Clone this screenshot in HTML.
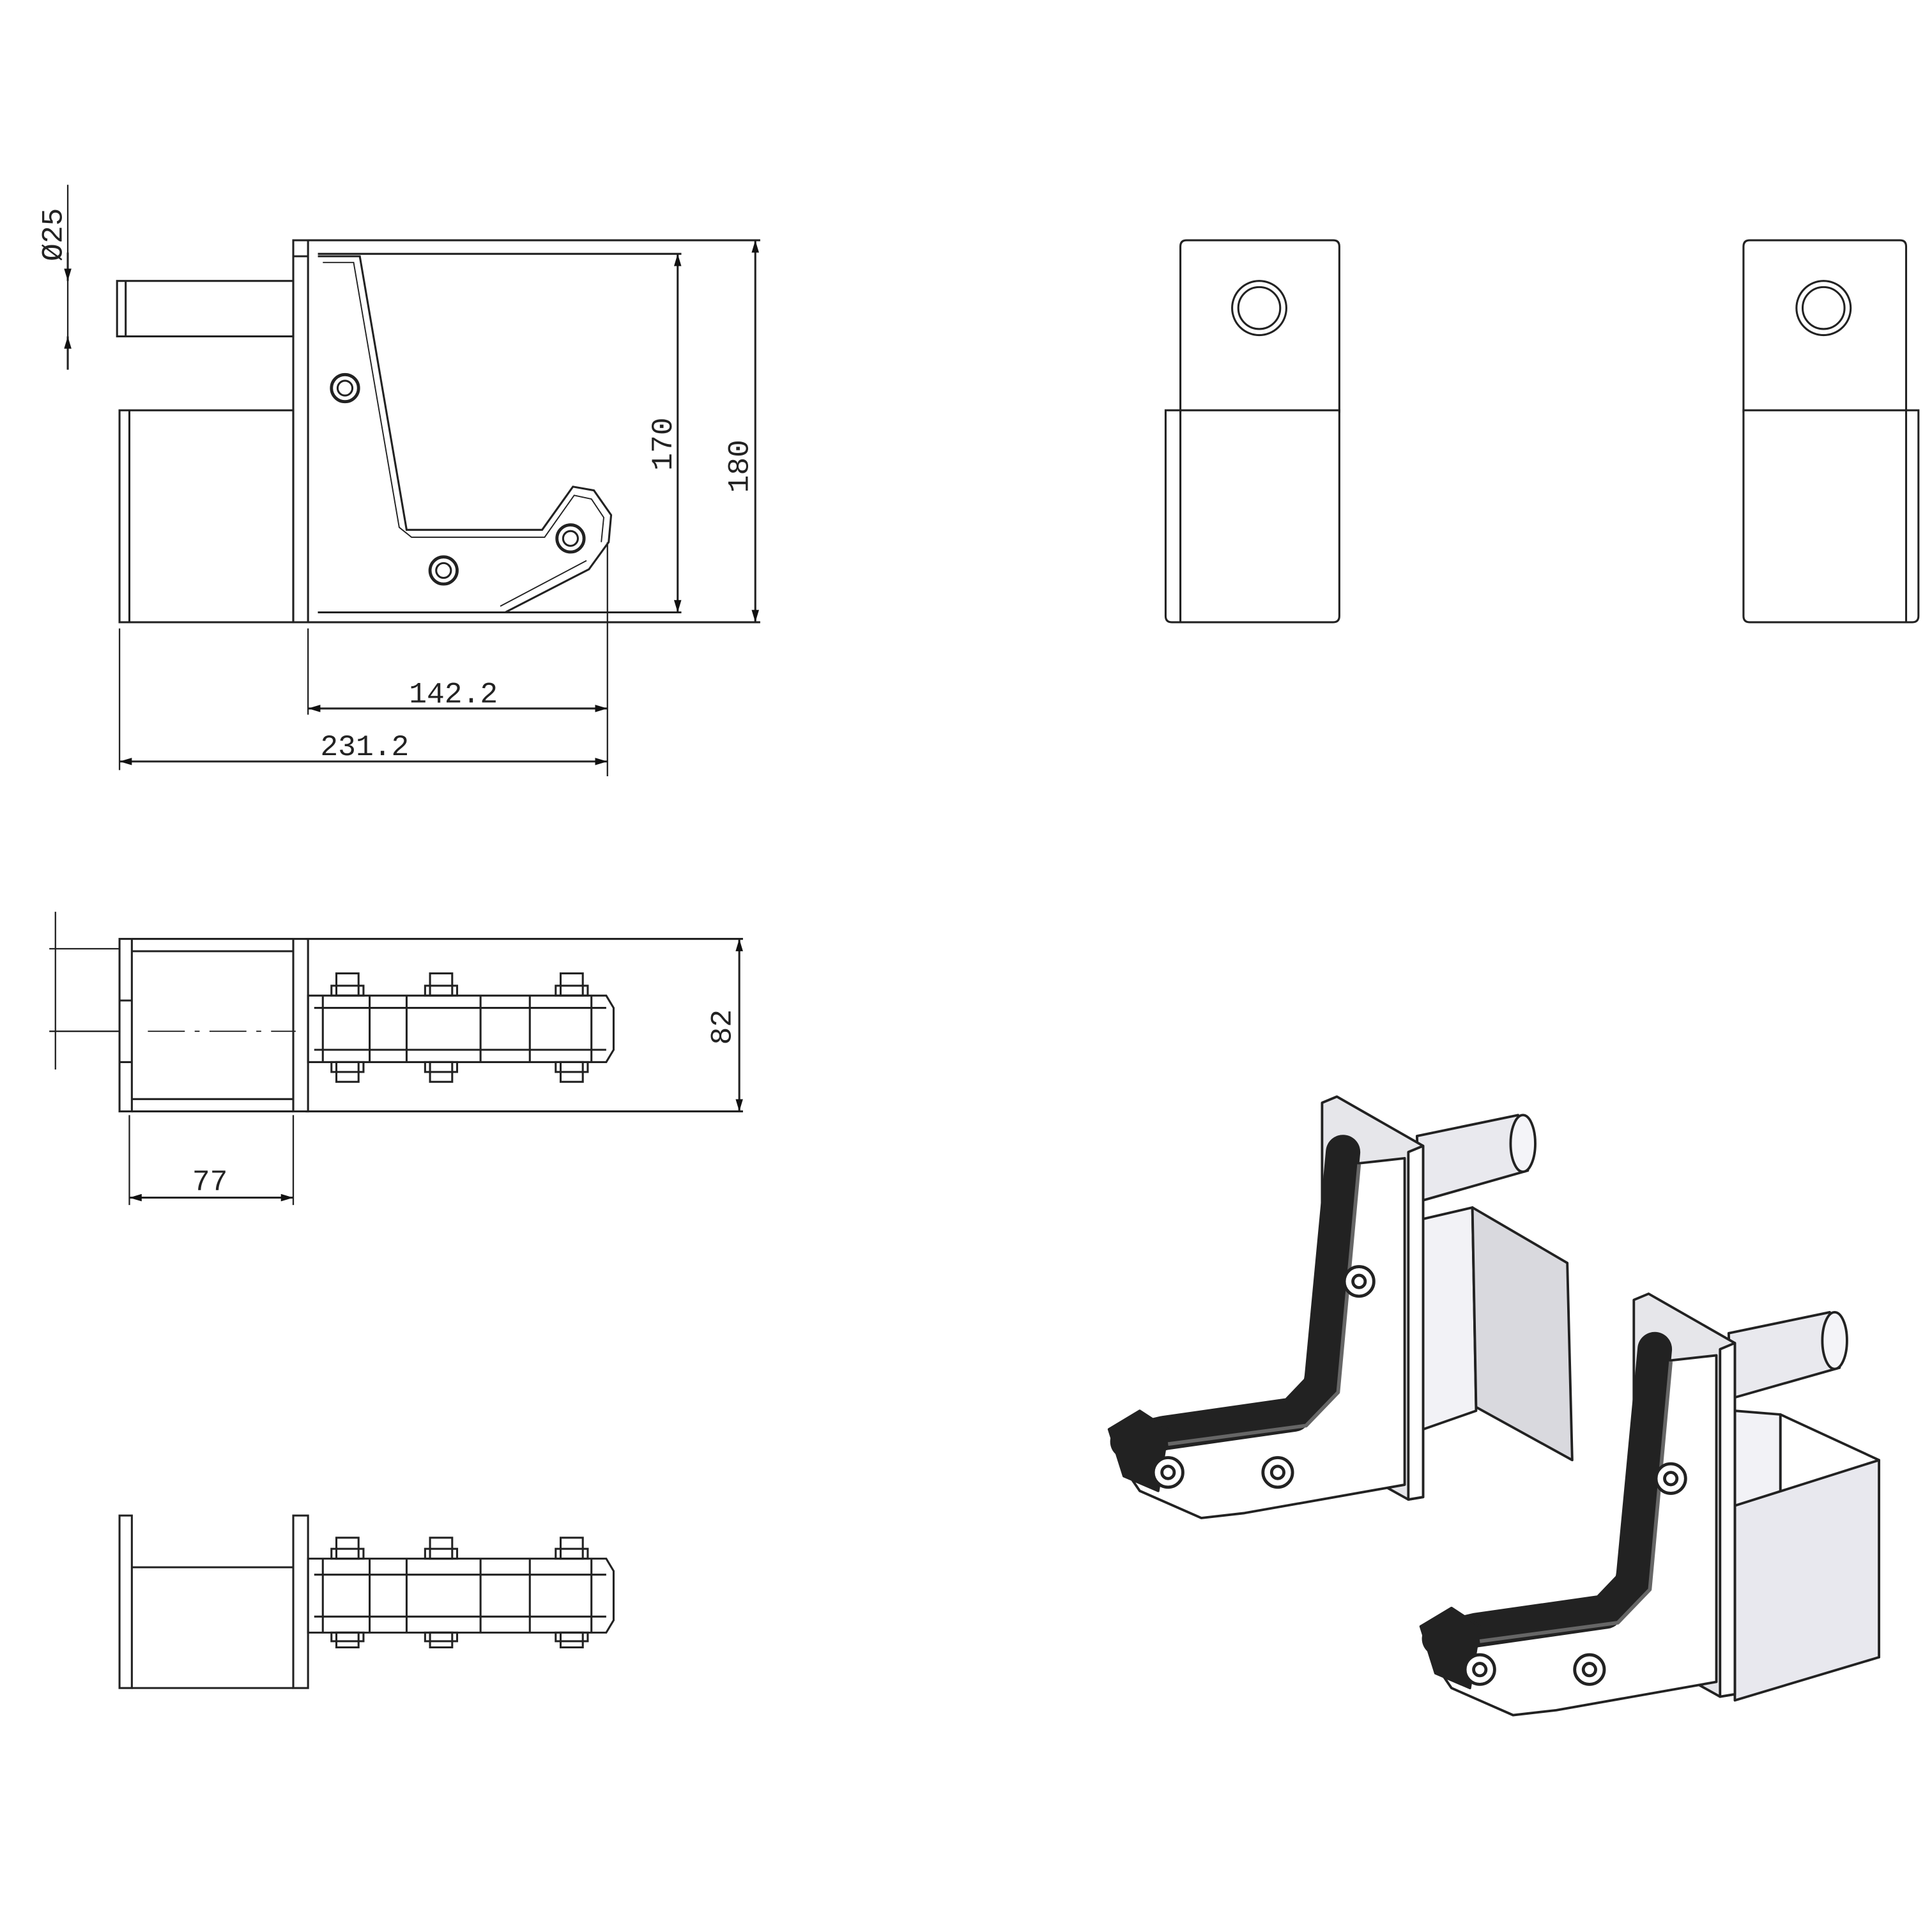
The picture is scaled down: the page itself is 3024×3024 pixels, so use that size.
<!DOCTYPE html>
<html><head><meta charset="utf-8"><style>
html,body{margin:0;padding:0;background:#fff;}
svg{display:block;}
text{font-family:"Liberation Mono","DejaVu Sans Mono",monospace;fill:#222;}
</style></head><body>
<svg width="3024" height="3024" viewBox="0 0 1568 1568" xmlns="http://www.w3.org/2000/svg">
<defs>
<marker id="a" viewBox="0 0 10 6" refX="10" refY="3" markerWidth="10" markerHeight="6" orient="auto-start-reverse" markerUnits="userSpaceOnUse"><path d="M0,0L10,3L0,6z" fill="#111"/></marker>
</defs>
<rect width="1568" height="1568" fill="#fff"/>
<g fill="none" stroke="#222" stroke-width="1.6">
<rect x="95" y="228" width="143" height="45"/>
<line x1="102" y1="228" x2="102" y2="273"/>
<rect x="238" y="195" width="12" height="310"/>
<line x1="238" y1="208" x2="250" y2="208"/>
<rect x="97" y="333" width="141" height="172"/>
<line x1="105" y1="333" x2="105" y2="505"/>
<line x1="250" y1="195" x2="617" y2="195"/>
<line x1="258" y1="206" x2="553" y2="206"/>
<line x1="250" y1="505" x2="617" y2="505"/>
<line x1="258" y1="497" x2="553" y2="497"/>
<path d="M258,208 L292,208 L330,430 L440,430 L465,395 L482,398 L496,418 L494,440 L478,462 L410,497 L258,497"/>
<path d="M262,213 L287,213 L324,428 L334,436 L442,436 L466,402 L480,405 L490,420 L488,440" stroke-width="1"/>
<path d="M406,492 L476,455" stroke-width="1"/>
<circle cx="280" cy="315" r="11" stroke-width="2.5"/><circle cx="280" cy="315" r="6"/>
<circle cx="463" cy="437" r="11" stroke-width="2.5"/><circle cx="463" cy="437" r="6"/>
<circle cx="360" cy="463" r="11" stroke-width="2.5"/><circle cx="360" cy="463" r="6"/>
<line x1="55" y1="150" x2="55" y2="300" stroke-width="1.2"/>
<line x1="55" y1="205" x2="55" y2="228" marker-end="url(#a)"/>
<line x1="55" y1="300" x2="55" y2="273" marker-end="url(#a)"/>
<line x1="550" y1="206" x2="550" y2="497" marker-start="url(#a)" marker-end="url(#a)"/>
<line x1="613" y1="195" x2="613" y2="505" marker-start="url(#a)" marker-end="url(#a)"/>
<line x1="250" y1="510" x2="250" y2="580" stroke-width="1.2"/>
<line x1="493" y1="440" x2="493" y2="630" stroke-width="1.2"/>
<line x1="97" y1="510" x2="97" y2="625" stroke-width="1.2"/>
<line x1="250" y1="575" x2="493" y2="575" marker-start="url(#a)" marker-end="url(#a)"/>
<line x1="97" y1="618" x2="493" y2="618" marker-start="url(#a)" marker-end="url(#a)"/>
<path d="M958,335 L958,200 Q958,195 963,195 L1082,195 Q1087,195 1087,200 L1087,335"/>
<path d="M946,333 L1087,333 L1087,500 Q1087,505 1082,505 L951,505 Q946,505 946,500 Z"/>
<line x1="958" y1="333" x2="958" y2="505"/>
<circle cx="1022" cy="250" r="22"/><circle cx="1022" cy="250" r="17"/>
<path d="M1415,335 L1415,200 Q1415,195 1420,195 L1542,195 Q1547,195 1547,200 L1547,333"/>
<path d="M1415,333 L1557,333 L1557,500 Q1557,505 1552,505 L1420,505 Q1415,505 1415,500 Z"/>
<line x1="1547" y1="333" x2="1547" y2="505"/>
<circle cx="1480" cy="250" r="22"/><circle cx="1480" cy="250" r="17"/>
<rect x="97" y="762" width="10" height="140"/>
<rect x="238" y="762" width="12" height="140"/>
<path d="M107,762 L238,762 M107,772 L238,772 M107,892 L238,892 M107,902 L238,902"/>
<line x1="97" y1="812" x2="107" y2="812"/><line x1="97" y1="862" x2="107" y2="862"/>
<line x1="120" y1="837" x2="240" y2="837" stroke-dasharray="30,8,4,8" stroke-width="1"/>
<line x1="248" y1="762" x2="603" y2="762"/>
<line x1="248" y1="902" x2="603" y2="902"/>
<path d="M250,808 L492,808 L498,818 L498,852 L492,862 L250,862 Z"/>
<path d="M255,818 L492,818 M255,852 L492,852"/>
<path d="M262,808 L262,862 M300,808 L300,862 M330,808 L330,862 M390,808 L390,862 M430,808 L430,862 M480,808 L480,862"/>
<g id="b1">
<rect x="273" y="790" width="18" height="18"/><rect x="269" y="800" width="26" height="8"/>
<rect x="273" y="862" width="18" height="16"/><rect x="269" y="862" width="26" height="8"/>
</g>
<use href="#b1" x="76"/><use href="#b1" x="182"/>
<line x1="600" y1="762" x2="600" y2="902" marker-start="url(#a)" marker-end="url(#a)"/>
<line x1="105" y1="905" x2="105" y2="978" stroke-width="1.2"/>
<line x1="238" y1="905" x2="238" y2="978" stroke-width="1.2"/>
<line x1="105" y1="972" x2="238" y2="972" marker-start="url(#a)" marker-end="url(#a)"/>
<line x1="45" y1="740" x2="45" y2="868" stroke-width="1.2"/>
<line x1="40" y1="770" x2="97" y2="770" stroke-width="1.2"/>
<line x1="40" y1="837" x2="97" y2="837" stroke-width="1.2"/>
<rect x="97" y="1230" width="10" height="140"/>
<rect x="238" y="1230" width="12" height="140"/>
<path d="M107,1272 L238,1272 M107,1370 L238,1370"/>
<path d="M250,1265 L492,1265 L498,1275 L498,1315 L492,1325 L250,1325 Z"/>
<path d="M255,1278 L492,1278 M255,1312 L492,1312"/>
<path d="M262,1265 L262,1325 M300,1265 L300,1325 M330,1265 L330,1325 M390,1265 L390,1325 M430,1265 L430,1325 M480,1265 L480,1325"/>
<g id="b2">
<rect x="273" y="1248" width="18" height="17"/><rect x="269" y="1257" width="26" height="8"/>
<rect x="273" y="1325" width="18" height="12"/><rect x="269" y="1325" width="26" height="7"/>
</g>
<use href="#b2" x="76"/><use href="#b2" x="182"/>
</g>
<g font-size="24">
<text x="0" y="0" transform="translate(50,212) rotate(-90)">Ø25</text>
<text x="0" y="0" transform="translate(545,382) rotate(-90)">170</text>
<text x="0" y="0" transform="translate(607,400) rotate(-90)">180</text>
<text x="332" y="570">142.2</text>
<text x="260" y="613">231.2</text>
<text x="0" y="0" transform="translate(593,848) rotate(-90)">82</text>
<text x="156" y="966">77</text>
</g>
<g id="br" stroke="#222" stroke-width="2" stroke-linejoin="round">
<path d="M1152,990 L1195,980 L1198,1145 L1155,1160 Z" fill="#f2f2f6"/>
<path d="M1195,980 L1272,1025 L1276,1185 L1198,1142 Z" fill="#d9d9de"/>
<path d="M1150,922 L1232,905 L1240,950 L1152,975 Z" fill="#e9e9ee"/>
<ellipse cx="1236" cy="928" rx="10" ry="23" fill="#f4f4f8"/>
<path d="M1073,895 L1085,890 L1155,930 L1155,1215 L1143,1217 L1073,1178 Z" fill="#e6e6ea"/>
<path d="M1143,935 L1155,930 L1155,1215 L1143,1217 Z" fill="#fff"/>
<path d="M1095,945 L1140,940 L1140,1205 L1010,1228 L975,1232 L925,1210 L908,1185 L945,1168 L1055,1140 Z" fill="#fff"/>
<path d="M1090,935 L1072,1125 L1050,1148 L945,1163 L915,1170" fill="none" stroke="#222" stroke-width="28" stroke-linecap="round"/>
<path d="M1103,945 L1086,1130 L1060,1157 L948,1172" fill="none" stroke="#666" stroke-width="3"/>
<path d="M900,1160 L925,1145 L948,1160 L940,1210 L912,1198 Z" fill="#222"/>
<g fill="#fff" stroke-width="2.5">
<circle cx="1103" cy="1040" r="12"/><circle cx="1103" cy="1040" r="5"/>
<circle cx="948" cy="1195" r="12"/><circle cx="948" cy="1195" r="5"/>
<circle cx="1037" cy="1195" r="12"/><circle cx="1037" cy="1195" r="5"/>
</g>
</g>
<g transform="translate(253,160)" stroke="#222" stroke-width="2" stroke-linejoin="round">
<path d="M1155,985 L1192,988 L1192,1140 L1155,1160 Z" fill="#f2f2f6"/>
<path d="M1192,988 L1272,1025 L1272,1185 L1192,1145 Z" fill="#fff"/>
<path d="M1155,1062 L1272,1025 L1272,1185 L1155,1220 Z" fill="#e8e8ee"/>
<path d="M1150,922 L1232,905 L1240,950 L1152,975 Z" fill="#e9e9ee"/>
<ellipse cx="1236" cy="928" rx="10" ry="23" fill="#f4f4f8"/>
<path d="M1073,895 L1085,890 L1155,930 L1155,1215 L1143,1217 L1073,1178 Z" fill="#e6e6ea"/>
<path d="M1143,935 L1155,930 L1155,1215 L1143,1217 Z" fill="#fff"/>
<path d="M1095,945 L1140,940 L1140,1205 L1010,1228 L975,1232 L925,1210 L908,1185 L945,1168 L1055,1140 Z" fill="#fff"/>
<path d="M1090,935 L1072,1125 L1050,1148 L945,1163 L915,1170" fill="none" stroke="#222" stroke-width="28" stroke-linecap="round"/>
<path d="M1103,945 L1086,1130 L1060,1157 L948,1172" fill="none" stroke="#666" stroke-width="3"/>
<path d="M900,1160 L925,1145 L948,1160 L940,1210 L912,1198 Z" fill="#222"/>
<g fill="#fff" stroke-width="2.5">
<circle cx="1103" cy="1040" r="12"/><circle cx="1103" cy="1040" r="5"/>
<circle cx="948" cy="1195" r="12"/><circle cx="948" cy="1195" r="5"/>
<circle cx="1037" cy="1195" r="12"/><circle cx="1037" cy="1195" r="5"/>
</g>
</g>
</svg>
</body></html>
